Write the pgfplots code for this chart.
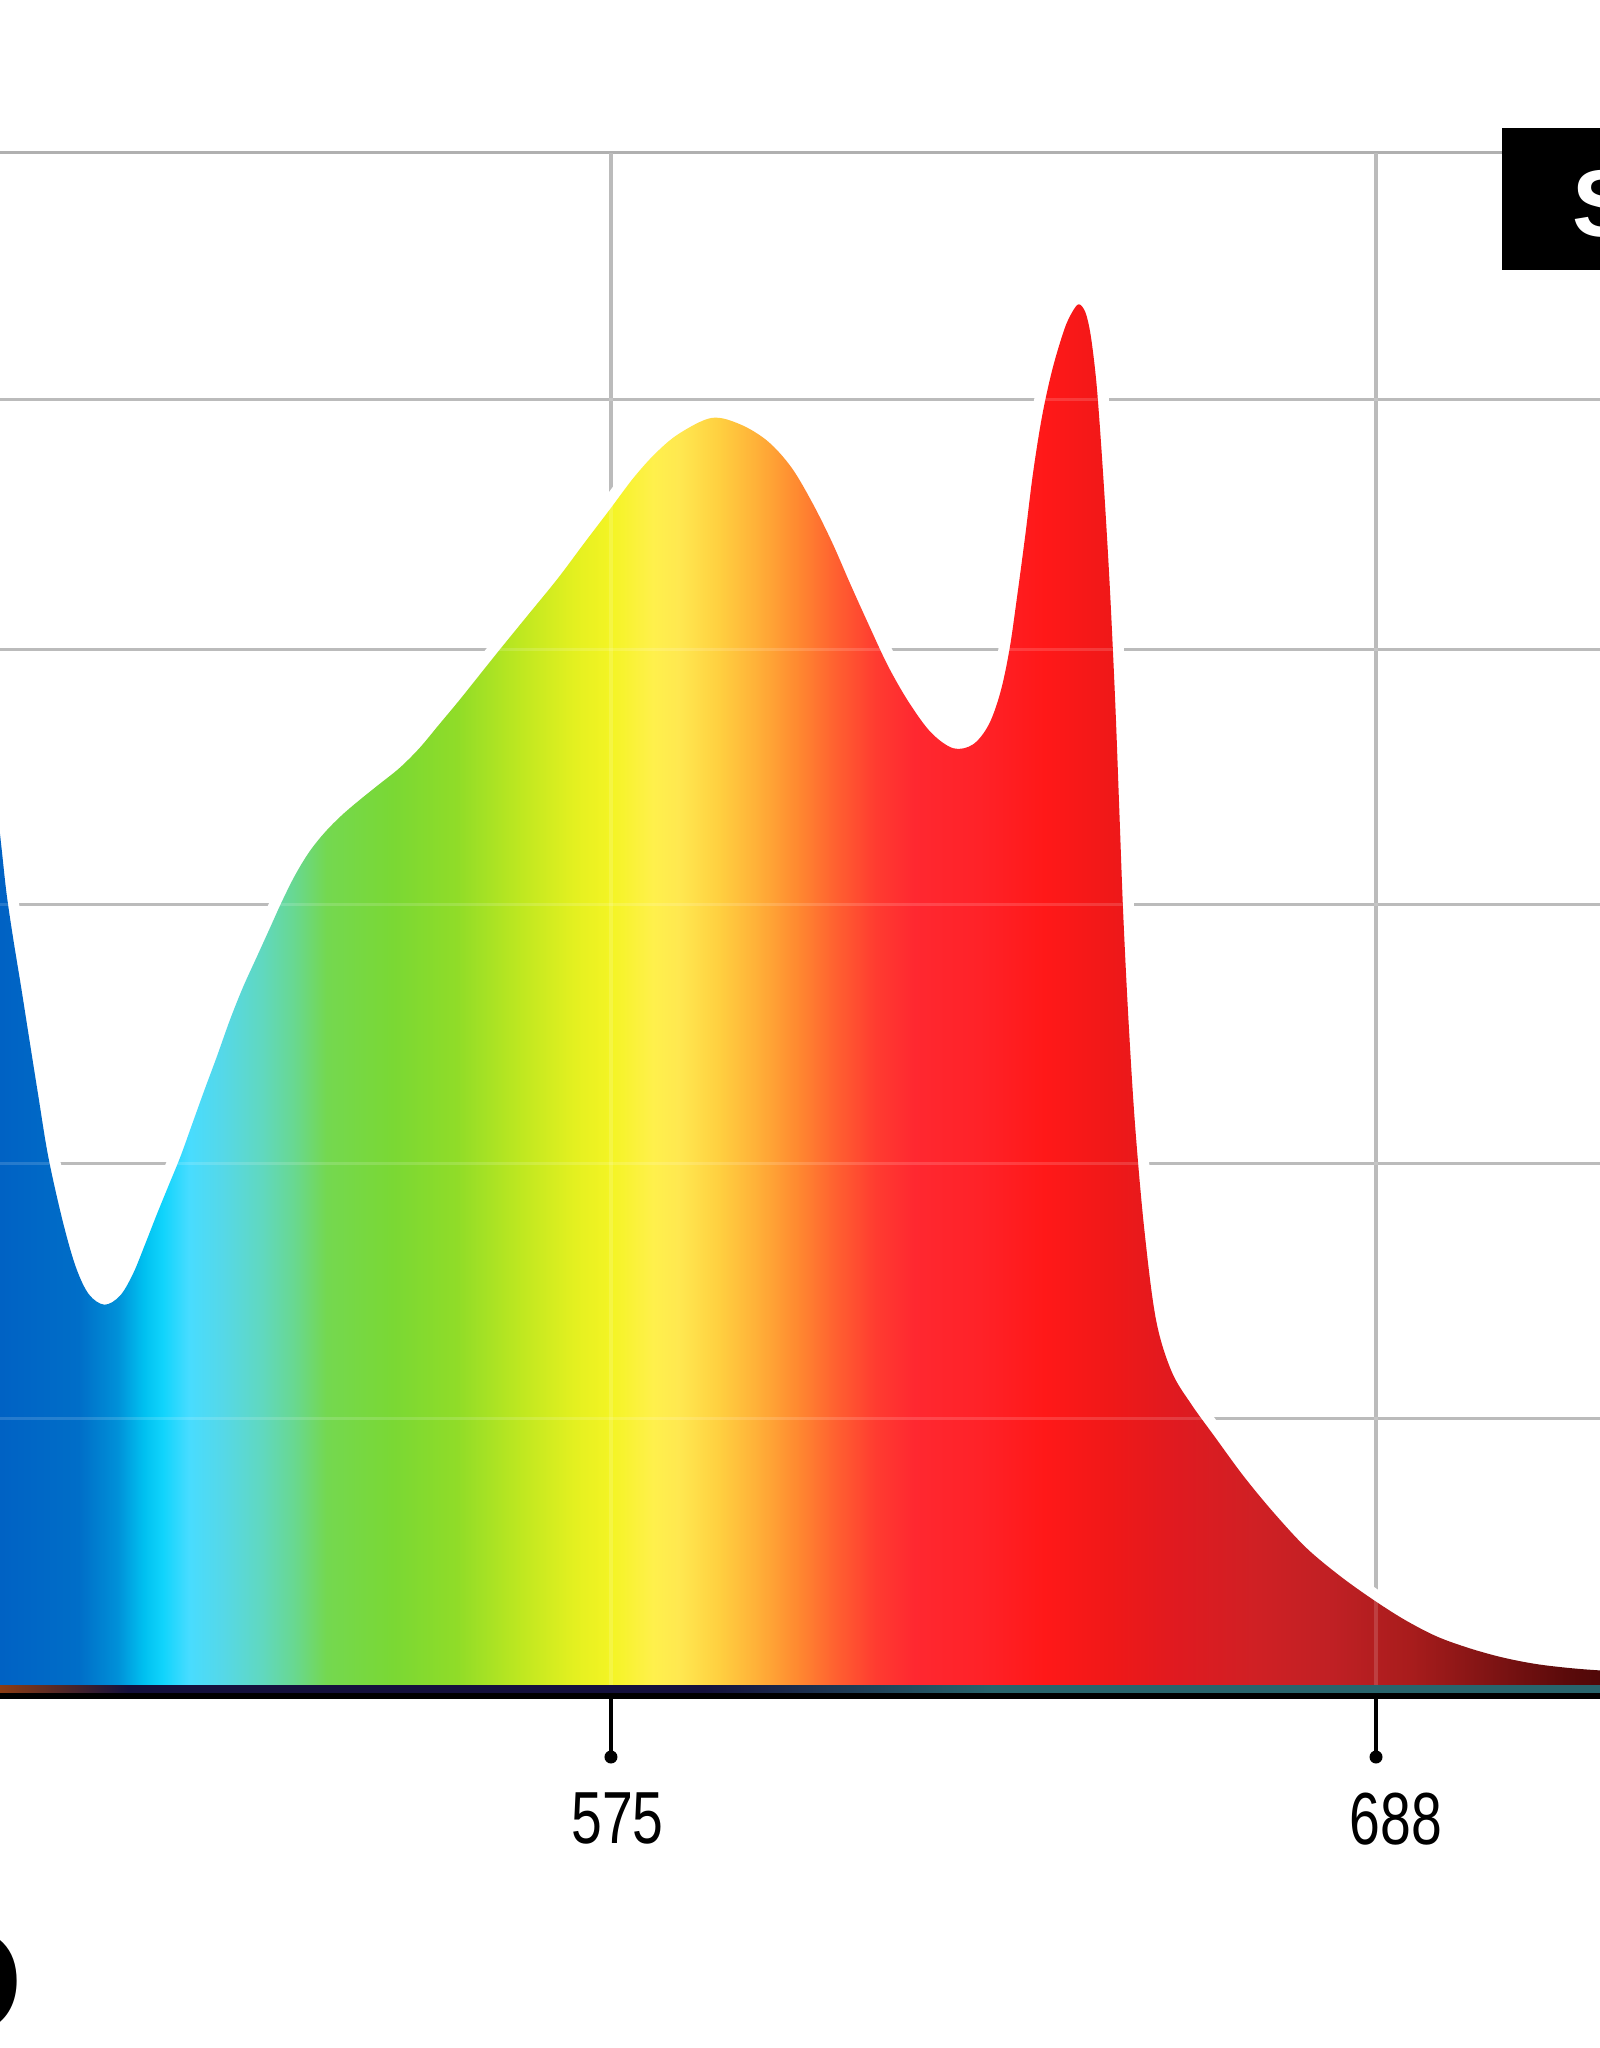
\documentclass[border=0pt]{standalone}
\usepackage{fontspec}
\setmainfont{Liberation Sans}
\newfontfamily\cond[FakeStretch=0.75]{Liberation Sans}
\usepackage{pgfplots}
\usepackage{pgfplotstable}
\pgfplotsset{compat=1.18}

\definecolor{gridgray}{RGB}{176,176,176}
\definecolor{axteal}{RGB}{40,100,108}
\definecolor{axnavy}{RGB}{20,16,60}
\definecolor{axbrown}{RGB}{140,60,20}

\pgfdeclarehorizontalshading{spectrum}{100bp}{
rgb(0bp)=(0,0.384,0.769);
rgb(25.33bp)=(0,0.384,0.769);
rgb(27.71bp)=(0,0.431,0.784);
rgb(28.89bp)=(0,0.565,0.847);
rgb(29.69bp)=(0,0.753,0.941);
rgb(30.27bp)=(0.063,0.831,0.988);
rgb(31.08bp)=(0.282,0.863,1);
rgb(32.07bp)=(0.333,0.847,0.910);
rgb(33.27bp)=(0.376,0.847,0.753);
rgb(34.27bp)=(0.408,0.847,0.565);
rgb(35.26bp)=(0.455,0.847,0.314);
rgb(37.25bp)=(0.478,0.847,0.204);
rgb(39.23bp)=(0.565,0.863,0.157);
rgb(41.22bp)=(0.753,0.910,0.125);
rgb(42.81bp)=(0.894,0.941,0.125);
rgb(43.91bp)=(0.957,0.957,0.141);
rgb(45.19bp)=(1,0.941,0.298);
rgb(45.98bp)=(1,0.910,0.314);
rgb(47.18bp)=(1,0.816,0.251);
rgb(48.36bp)=(1,0.690,0.220);
rgb(49.56bp)=(1,0.541,0.188);
rgb(50.76bp)=(1,0.376,0.188);
rgb(51.94bp)=(1,0.235,0.188);
rgb(53.14bp)=(1,0.157,0.188);
rgb(55.13bp)=(1,0.133,0.157);
rgb(57.11bp)=(1,0.094,0.094);
rgb(59.10bp)=(0.941,0.094,0.094);
rgb(61.09bp)=(0.878,0.102,0.125);
rgb(63.47bp)=(0.816,0.125,0.141);
rgb(65.85bp)=(0.753,0.125,0.141);
rgb(68.25bp)=(0.659,0.110,0.110);
rgb(70.63bp)=(0.502,0.078,0.078);
rgb(73.00bp)=(0.353,0.039,0.039);
rgb(74.00bp)=(0.314,0.031,0.031);
rgb(100bp)=(0.314,0.031,0.031)}

\pgfdeclarehorizontalshading{axisstripe}{100bp}{
color(0bp)=(axbrown); color(25bp)=(axbrown); color(29bp)=(axnavy);
color(47bp)=(axnavy); color(56bp)=(axteal); color(100bp)=(axteal)}

\pgfplotstableread{
x y
483.62 935.1
484.58 886.7
485.35 839.7
486.11 792.7
487.07 748.3
488.23 700.0
489.38 650.3
490.72 592.9
492.26 528.9
494.37 464.9
496.29 419.2
498.21 391.8
500.52 381.3
502.82 390.4
504.74 412.6
506.47 441.4
508.20 471.4
509.93 500.2
511.66 528.9
513.39 561.5
515.12 594.2
517.04 629.4
518.96 666.0
520.88 698.7
522.80 727.4
524.72 756.1
526.64 784.9
528.56 811.0
530.67 834.5
532.98 854.1
535.47 871.1
538.16 886.7
541.04 902.4
543.92 918.1
546.81 937.7
549.69 961.2
552.57 984.7
555.64 1010.8
558.71 1036.9
562.94 1072.2
567.16 1107.4
571.19 1144.0
574.85 1176.7
578.30 1208.0
581.57 1232.8
585.02 1252.4
589.83 1268.1
594.05 1261.5
598.08 1244.6
601.54 1218.5
604.61 1183.2
607.49 1144.0
610.18 1102.2
612.87 1061.7
615.75 1019.9
618.83 983.4
622.09 953.3
625.36 937.7
628.24 941.6
630.54 961.2
632.27 993.8
633.61 1036.9
634.77 1091.8
635.92 1150.5
637.07 1213.2
638.42 1270.7
639.95 1317.7
641.68 1356.9
642.83 1373.9
643.79 1381.7
644.75 1373.9
645.52 1351.7
646.29 1309.9
646.87 1261.5
647.64 1183.2
648.41 1091.8
649.17 980.8
649.75 876.3
650.33 771.8
651.09 667.3
652.05 562.8
653.40 458.4
655.13 366.9
657.43 314.7
660.31 282.0
663.77 249.4
667.99 210.2
672.41 173.7
677.21 138.4
682.02 111.0
686.82 87.5
691.62 66.6
696.42 49.6
701.22 37.8
706.02 28.7
710.83 22.2
715.63 18.2
720.43 15.6
725.23 14.3
}\spec

\begin{document}
\begin{tikzpicture}
\path[use as bounding box] (0,-36.2mm) rectangle (160mm,168.6mm);
\begin{scope}
\clip (0,-36.2mm) rectangle (160mm,168.6mm);
\begin{axis}[
  at={(0,0)}, anchor=south west, scale only axis,
  width=160mm, height=153.33mm,
  xmin=485.15, xmax=720.44, ymin=0, ymax=1533.3,
  axis line style={draw=none},
  xtick={575,687.5}, xticklabels={575,\hspace{2.7mm}688},
  ytick={267.7,522.7,781.7,1036.7,1286.7,1533.3}, yticklabels={},
  ytick style={draw=none},
  xtick pos=bottom, tick align=outside,
  major tick length=7.1mm,
  x tick style={black, line width=0.45mm},
  grid=major,
  major grid style={gridgray, line width=0.36mm},
  xticklabel style={font=\cond\fontsize{21pt}{21pt}\selectfont, inner sep=0pt, anchor=north, yshift=-3.5mm, xshift=0.65mm},
]
\addplot[draw=white, line width=2.2mm, smooth, tension=0.55, forget plot] table {\spec};
\addplot[draw=none, shade, shading=spectrum, smooth, tension=0.55] table {\spec} \closedcycle;
\pgfplotsinvokeforeach{267.7,522.7,781.7,1036.7,1286.7}{
  \draw[white, opacity=0.15, line width=0.36mm] (axis cs:485.15,#1) -- (axis cs:720.44,#1);}
\pgfplotsinvokeforeach{575,687.5}{
  \draw[white, opacity=0.15, line width=0.36mm] (axis cs:#1,0) -- (axis cs:#1,1533.3);}
\coordinate (t1) at (axis cs:575,0);
\coordinate (t2) at (axis cs:687.5,0);
\end{axis}
% x axis line
\draw[black, line width=0.7mm] (0,-0.9mm) -- (160mm,-0.9mm);
\shade[shading=axisstripe] (0,-0.6mm) rectangle (160mm,0.05mm);
\fill[black] (t1) ++(0,-7.1mm) circle (0.65mm);
\fill[black] (t2) ++(0,-7.1mm) circle (0.65mm);
% label box top right
\fill[black, overlay] (150.2mm,141.6mm) rectangle (165mm,155.8mm);
\node[overlay, anchor=base west, inner sep=0pt, text=white, font=\bfseries\fontsize{27pt}{27pt}\selectfont] at (157.2mm,144.9mm) {SPECTRUM};
% partial letter bottom left
\node[overlay, anchor=east, inner sep=0pt, font=\bfseries\fontsize{42pt}{42pt}\selectfont] at (2.4mm,-29.6mm) {O};
\end{scope}
\end{tikzpicture}
\end{document}
